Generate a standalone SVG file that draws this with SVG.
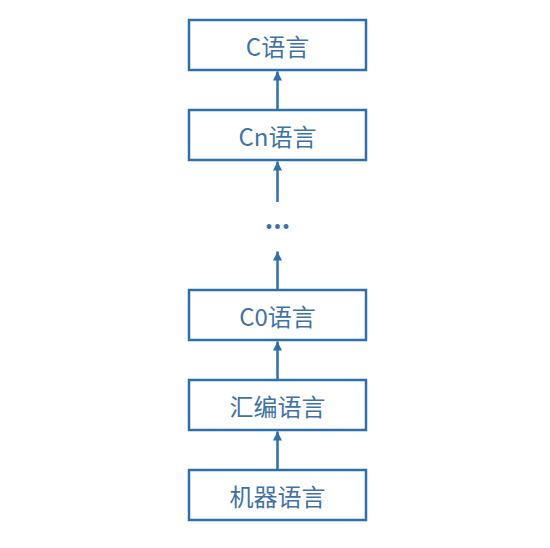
<svg xmlns="http://www.w3.org/2000/svg" width="550" height="548" viewBox="0 0 550 548">
<style>
.box{fill:#ffffff;stroke:#2f6fad;stroke-width:2.5}
.lbl{font-family:"Noto Sans CJK SC","Noto Sans",sans-serif;font-size:24px;fill:#3f72a8;text-anchor:middle;dominant-baseline:central}
.dots{font-family:"Noto Sans CJK SC","Noto Sans",sans-serif;font-size:26px;font-weight:bold;fill:#3f72a8;text-anchor:middle}
.con{stroke:#2f6fad;stroke-width:2.5;fill:none}
</style>
<defs>
<marker id="ah" viewBox="0 0 10 10" refX="10" refY="5" markerWidth="4.2" markerHeight="3.6" orient="auto" markerUnits="strokeWidth">
<path d="M0,0 L10,5 L0,10 z" fill="#2f6fad"/>
</marker>
</defs>
<rect width="550" height="548" fill="#ffffff"/>
<g id="connectors">
<line class="con" x1="277.5" y1="110" x2="277.5" y2="71.5" marker-end="url(#ah)"/>
<line class="con" x1="277.5" y1="202" x2="277.5" y2="161.5" marker-end="url(#ah)"/>
<line class="con" x1="277.5" y1="290" x2="277.5" y2="251.5" marker-end="url(#ah)"/>
<line class="con" x1="277.5" y1="380" x2="277.5" y2="341.5" marker-end="url(#ah)"/>
<line class="con" x1="277.5" y1="470" x2="277.5" y2="431.5" marker-end="url(#ah)"/>
</g>
<g id="c"><rect class="box" x="189" y="20" width="177" height="50"/><text class="lbl" x="277.5" y="45">C语言</text></g>
<g id="cn"><rect class="box" x="189" y="110" width="177" height="50"/><text class="lbl" x="277.5" y="135">Cn语言</text></g>
<g id="dots"><text class="dots" x="277.5" y="229">...</text></g>
<g id="c0"><rect class="box" x="189" y="290" width="177" height="50"/><text class="lbl" x="277.5" y="315">C0语言</text></g>
<g id="asm"><rect class="box" x="189" y="380" width="177" height="50"/><text class="lbl" x="277.5" y="405">汇编语言</text></g>
<g id="mach"><rect class="box" x="189" y="470" width="177" height="50"/><text class="lbl" x="277.5" y="495">机器语言</text></g>
</svg>
